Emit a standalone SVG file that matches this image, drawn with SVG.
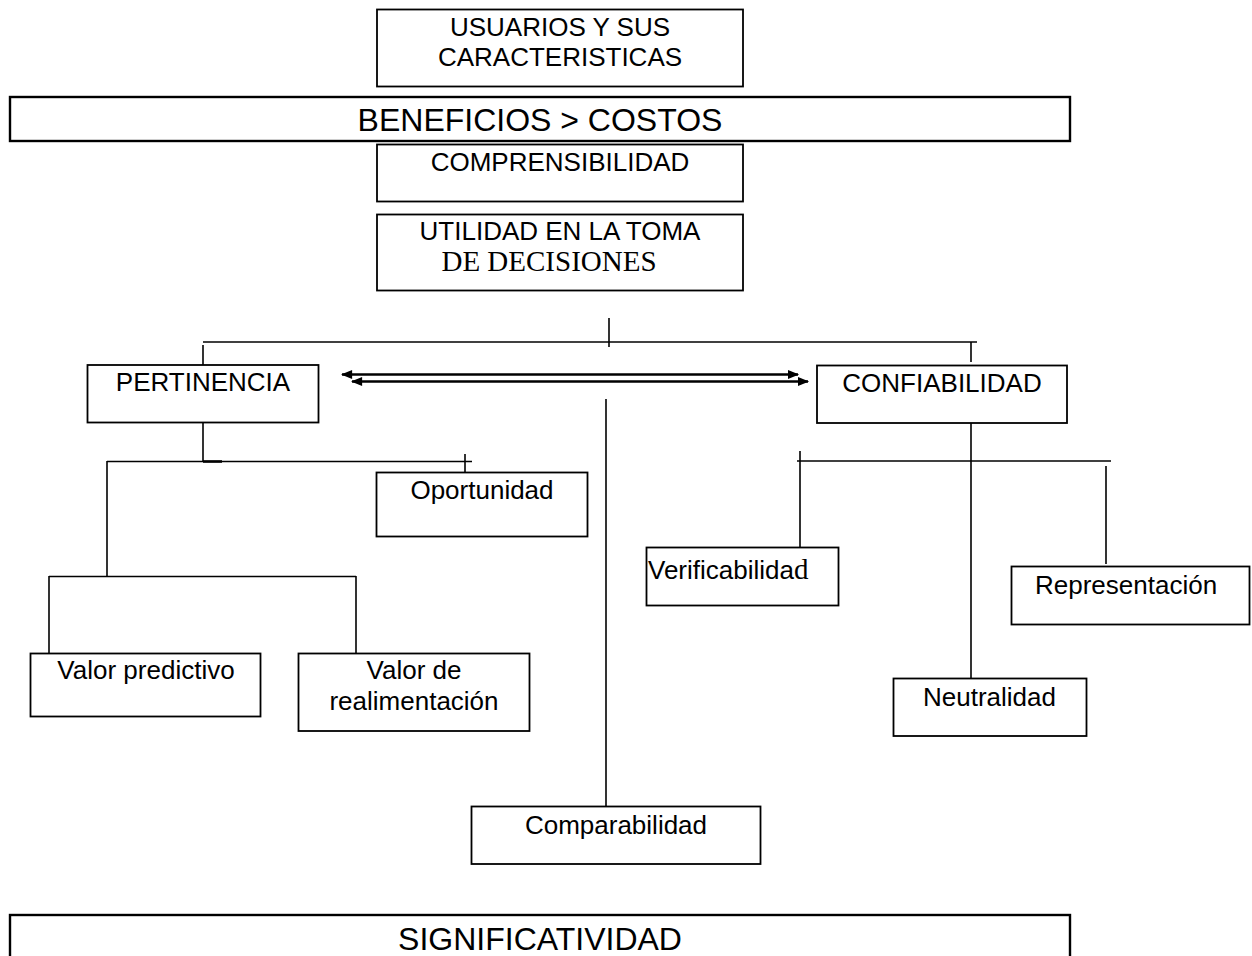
<svg xmlns="http://www.w3.org/2000/svg" width="1252" height="956" viewBox="0 0 1252 956">
<defs>
<style>
.box{fill:#fff;stroke:#000;stroke-width:1.8}
.wide{fill:#fff;stroke:#000;stroke-width:2.4}
.t{font-family:"Liberation Sans",Arial,sans-serif;font-size:26px;fill:#000}
.s{font-family:"Liberation Serif","Times New Roman",serif;font-size:29px;fill:#000}
.big{font-family:"Liberation Sans",Arial,sans-serif;font-size:32px;fill:#000}
.c{text-anchor:middle}
.ln{stroke:#000;stroke-width:1.6;fill:none}
.dbl{stroke:#000;stroke-width:2.4;fill:none}
</style>
<marker id="ah" viewBox="0 0 10 8" refX="9" refY="4" markerWidth="12" markerHeight="9" markerUnits="userSpaceOnUse" orient="auto-start-reverse">
<path d="M0,0 L10,4 L0,8 Z" fill="#000"/>
</marker>
</defs>
<rect width="1252" height="956" fill="#fff"/>
<g id="connectors">
<line class="ln" x1="609" y1="318" x2="609" y2="347"/>
<line class="ln" x1="203" y1="342" x2="977" y2="342"/>
<line class="ln" x1="203" y1="345" x2="203" y2="365"/>
<line class="ln" x1="971" y1="342" x2="971" y2="362"/>
<line class="dbl" x1="342" y1="374.5" x2="798" y2="374.5" marker-start="url(#ah)" marker-end="url(#ah)"/>
<line class="dbl" x1="352" y1="381.5" x2="808" y2="381.5" marker-start="url(#ah)" marker-end="url(#ah)"/>
<line class="ln" x1="203" y1="422" x2="203" y2="462"/>
<line class="ln" x1="107" y1="461.5" x2="472" y2="461.5"/>
<line x1="203" y1="461.5" x2="222" y2="461.5" stroke="#000" stroke-width="2.6"/>
<line class="ln" x1="465" y1="454" x2="465" y2="473"/>
<line class="ln" x1="107" y1="461" x2="107" y2="577"/>
<line class="ln" x1="49" y1="576.5" x2="356" y2="576.5"/>
<line class="ln" x1="49" y1="576" x2="49" y2="654"/>
<line class="ln" x1="356" y1="576" x2="356" y2="654"/>
<line class="ln" x1="606" y1="399" x2="606" y2="807"/>
<line class="ln" x1="971" y1="418" x2="971" y2="682"/>
<line class="ln" x1="797" y1="461" x2="1111" y2="461"/>
<line class="ln" x1="800" y1="451" x2="800" y2="548"/>
<line class="ln" x1="1106" y1="466" x2="1106" y2="564"/>
</g>
<g id="usuarios">
<rect class="box" x="377" y="9.5" width="366" height="77"/>
<text class="t c" x="560" y="36">USUARIOS Y SUS</text>
<text class="t c" x="560" y="66">CARACTERISTICAS</text>
</g>
<g id="beneficios">
<rect class="wide" x="10" y="97" width="1060" height="44"/>
<text class="big c" x="540" y="131">BENEFICIOS &gt; COSTOS</text>
</g>
<g id="comprensibilidad">
<rect class="box" x="377" y="144.5" width="366" height="57"/>
<text class="t c" x="560" y="171">COMPRENSIBILIDAD</text>
</g>
<g id="utilidad">
<rect class="box" x="377" y="214.5" width="366" height="76"/>
<text class="t c" x="560" y="240">UTILIDAD EN LA TOMA</text>
<text class="s c" x="549" y="271">DE DECISIONES</text>
</g>
<g id="pertinencia">
<rect class="box" x="87.5" y="365" width="231" height="57.5"/>
<text class="t c" x="203" y="391">PERTINENCIA</text>
</g>
<g id="confiabilidad">
<rect class="box" x="817" y="365.5" width="250" height="57.5"/>
<text class="t c" x="942" y="392">CONFIABILIDAD</text>
</g>
<g id="oportunidad">
<rect class="box" x="376.5" y="472.5" width="211" height="64"/>
<text class="t c" x="482" y="499">Oportunidad</text>
</g>
<g id="valor-predictivo">
<rect class="box" x="30.5" y="653.5" width="230" height="63"/>
<text class="t c" x="146" y="679">Valor predictivo</text>
</g>
<g id="valor-realimentacion">
<rect class="box" x="298.5" y="653.5" width="231" height="77.5"/>
<text class="t c" x="414" y="679">Valor de</text>
<text class="t c" x="414" y="710">realimentación</text>
</g>
<g id="comparabilidad">
<rect class="box" x="471.5" y="806.5" width="289" height="57.5"/>
<text class="t c" x="616" y="834">Comparabilidad</text>
</g>
<g id="verificabilidad">
<rect class="box" x="646.5" y="547.5" width="192" height="58"/>
<text class="t" x="648" y="579">Verificabilida<tspan class="s">d</tspan></text>
</g>
<g id="representacion">
<rect class="box" x="1011.5" y="566.5" width="238" height="58"/>
<text class="t" x="1035" y="594">Representación</text>
</g>
<g id="neutralidad">
<rect class="box" x="893.5" y="678.5" width="193" height="57.5"/>
<text class="t" x="923" y="706">Neutralidad</text>
</g>
<g id="significatividad">
<rect class="wide" x="10" y="915" width="1060" height="60"/>
<text class="big c" x="540" y="950">SIGNIFICATIVIDAD</text>
</g>
</svg>
